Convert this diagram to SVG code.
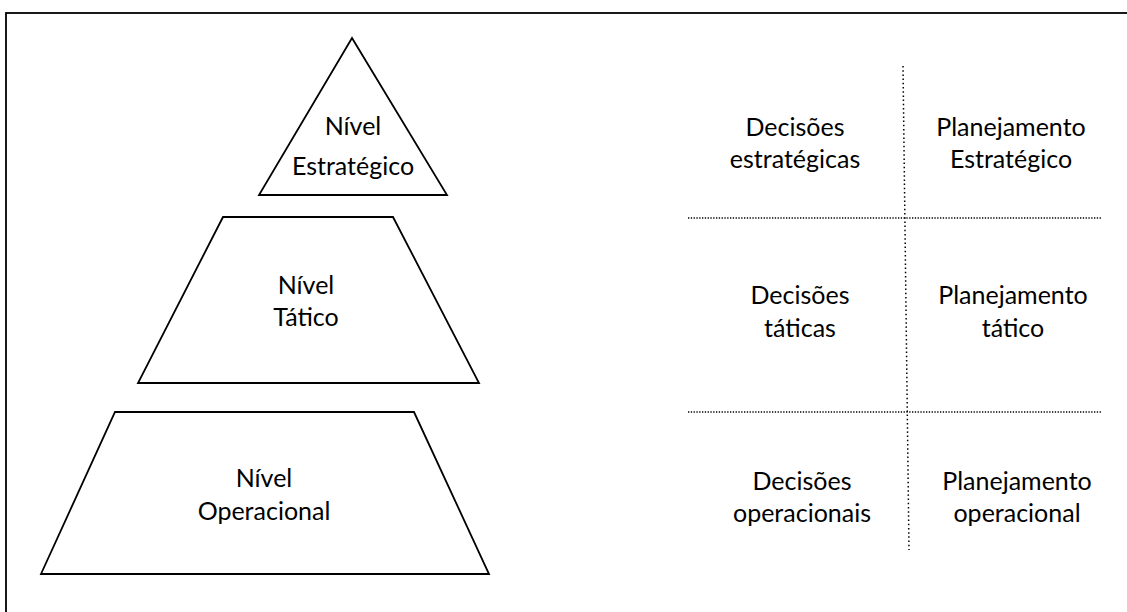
<svg xmlns="http://www.w3.org/2000/svg" width="1127" height="612" viewBox="0 0 1127 612">
  <style>
    .shape { fill: #ffffff; stroke: #000000; stroke-width: 1.8; stroke-linejoin: miter; }
    .label { font-family: Lato, "Open Sans", "Liberation Sans", sans-serif; font-size: 25px; fill: #000000; text-anchor: middle; }
    .vdot { stroke: #000000; stroke-width: 1.5; stroke-dasharray: 1.5 2.7; fill: none; }
    .hdot { stroke: #000000; stroke-width: 1.3; stroke-dasharray: 1.3 1.5; fill: none; }
  </style>
  <rect x="0" y="0" width="1127" height="612" fill="#ffffff"/>
  <!-- outer frame (right and bottom sides fall outside the canvas) -->
  <rect x="6" y="13" width="1130" height="610" fill="none" stroke="#000000" stroke-width="1.8"/>

  <g id="nivel-estrategico">
    <polygon class="shape" points="352,38 447,195 259,195"/>
    <text class="label" x="353" y="135">Nível</text>
    <text class="label" x="353" y="175">Estratégico</text>
  </g>

  <g id="nivel-tatico">
    <polygon class="shape" points="223,217 393,217 479,383 138,383"/>
    <text class="label" x="306" y="294">Nível</text>
    <text class="label" x="306" y="326">Tático</text>
  </g>

  <g id="nivel-operacional">
    <polygon class="shape" points="115,412 414,412 489,574 41,574"/>
    <text class="label" x="264" y="487">Nível</text>
    <text class="label" x="264" y="520">Operacional</text>
  </g>

  <g id="divisores">
    <line class="vdot" x1="903" y1="66" x2="909" y2="550"/>
    <line class="hdot" x1="688" y1="218" x2="1101" y2="218"/>
    <line class="hdot" x1="688" y1="412" x2="1101" y2="412"/>
  </g>

  <g id="decisoes-estrategicas">
    <text class="label" x="795" y="136">Decisões</text>
    <text class="label" x="795" y="168">estratégicas</text>
  </g>
  <g id="planejamento-estrategico">
    <text class="label" x="1011" y="136">Planejamento</text>
    <text class="label" x="1011" y="168">Estratégico</text>
  </g>

  <g id="decisoes-taticas">
    <text class="label" x="800" y="304">Decisões</text>
    <text class="label" x="800" y="337">táticas</text>
  </g>
  <g id="planejamento-tatico">
    <text class="label" x="1013" y="304">Planejamento</text>
    <text class="label" x="1013" y="337">tático</text>
  </g>

  <g id="decisoes-operacionais">
    <text class="label" x="802" y="490">Decisões</text>
    <text class="label" x="802" y="522">operacionais</text>
  </g>
  <g id="planejamento-operacional">
    <text class="label" x="1017" y="490">Planejamento</text>
    <text class="label" x="1017" y="522">operacional</text>
  </g>
</svg>
